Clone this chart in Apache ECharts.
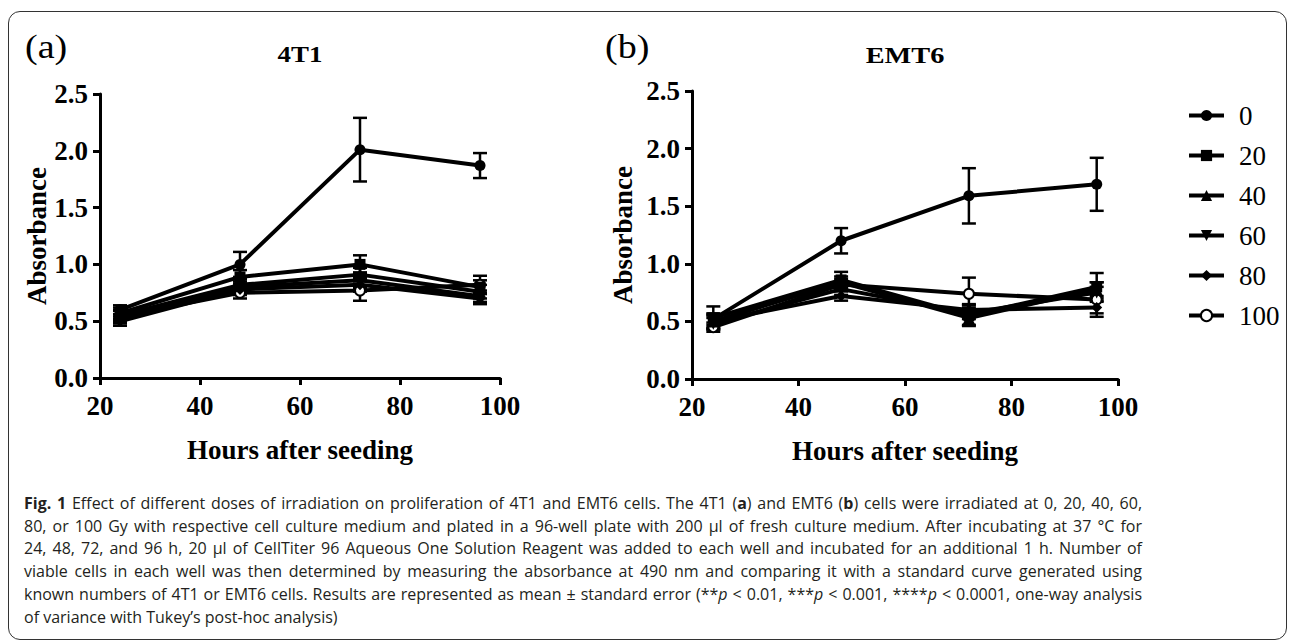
<!DOCTYPE html>
<html>
<head>
<meta charset="utf-8">
<script src="https://cdn.jsdelivr.net/npm/echarts@6/dist/echarts.min.js"></script>
<style>
  html, body { margin:0; padding:0; background:#fff; }
  #wrap { position:relative; width:1293px; height:643px; overflow:hidden; }
  #chart { position:absolute; left:0; top:0; width:1293px; height:643px; }
  #frame { position:absolute; left:8px; top:11px; width:1279px; height:629px; box-sizing:border-box;
           border:1.5px solid #333; border-radius:12px; pointer-events:none; }
  #caption { position:absolute; left:24px; top:492px; width:1118px;
             font-family:"Open Sans", sans-serif; font-size:16px; line-height:22.7px; color:#231f20; }
  #caption .j { text-align:justify; text-align-last:justify; white-space:nowrap; }
  #caption .l { white-space:nowrap; }
</style>
</head>
<body>
<div id="wrap">
  <div id="chart"></div>
  <div id="frame"></div>
  <div id="caption">
    <div class="j"><b>Fig. 1</b> Effect of different doses of irradiation on proliferation of 4T1 and EMT6 cells. The 4T1 (<b>a</b>) and EMT6 (<b>b</b>) cells were irradiated at 0, 20, 40, 60,</div>
    <div class="j">80, or 100 Gy with respective cell culture medium and plated in a 96-well plate with 200 µl of fresh culture medium. After incubating at 37 °C for</div>
    <div class="j">24, 48, 72, and 96 h, 20 µl of CellTiter 96 Aqueous One Solution Reagent was added to each well and incubated for an additional 1 h. Number of</div>
    <div class="j">viable cells in each well was then determined by measuring the absorbance at 490 nm and comparing it with a standard curve generated using</div>
    <div class="j">known numbers of 4T1 or EMT6 cells. Results are represented as mean ± standard error (**<i>p</i> &lt; 0.01, ***<i>p</i> &lt; 0.001, ****<i>p</i> &lt; 0.0001, one-way analysis</div>
    <div class="l">of variance with Tukey’s post-hoc analysis)</div>
  </div>
</div>
<script>
// ---- data ----
const hours = [24, 48, 72, 96];
const doses = ['0', '20', '40', '60', '80', '100'];
const xTicks = [20, 40, 60, 80, 100];
const yTicks = [0.0, 0.5, 1.0, 1.5, 2.0, 2.5];

// 4T1 means and standard errors
const t1_0   = [0.60, 1.00, 2.01, 1.87];  const t1_0_err   = [0.04, 0.11, 0.28, 0.11];
const t1_20  = [0.57, 0.89, 1.00, 0.80];  const t1_20_err  = [0.05, 0.06, 0.08, 0.06];
const t1_40  = [0.55, 0.82, 0.91, 0.76];  const t1_40_err  = [0.05, 0.05, 0.06, 0.06];
const t1_60  = [0.52, 0.80, 0.86, 0.72];  const t1_60_err  = [0.04, 0.05, 0.07, 0.05];
const t1_80  = [0.50, 0.78, 0.82, 0.70];  const t1_80_err  = [0.04, 0.05, 0.06, 0.05];
const t1_100 = [0.54, 0.75, 0.77, 0.82];  const t1_100_err = [0.05, 0.05, 0.09, 0.08];

// EMT6 means and standard errors
const e6_0   = [0.52, 1.20, 1.59, 1.69];  const e6_0_err   = [0.05, 0.11, 0.24, 0.23];
const e6_20  = [0.53, 0.86, 0.55, 0.80];  const e6_20_err  = [0.10, 0.07, 0.09, 0.12];
const e6_40  = [0.50, 0.84, 0.53, 0.78];  const e6_40_err  = [0.06, 0.05, 0.06, 0.06];
const e6_60  = [0.48, 0.78, 0.57, 0.75];  const e6_60_err  = [0.05, 0.05, 0.05, 0.05];
const e6_80  = [0.50, 0.72, 0.60, 0.62];  const e6_80_err  = [0.05, 0.04, 0.05, 0.05];
const e6_100 = [0.45, 0.82, 0.74, 0.69];  const e6_100_err = [0.04, 0.05, 0.14, 0.15];

const t1Means = [t1_0, t1_20, t1_40, t1_60, t1_80, t1_100];
const t1Errs  = [t1_0_err, t1_20_err, t1_40_err, t1_60_err, t1_80_err, t1_100_err];
const e6Means = [e6_0, e6_20, e6_40, e6_60, e6_80, e6_100];
const e6Errs  = [e6_0_err, e6_20_err, e6_40_err, e6_60_err, e6_80_err, e6_100_err];

// ---- styles ----
const SERIF = '"Liberation Serif", "Times New Roman", serif';
const symbolList = ['circle', 'rect', 'triangle', 'path://M0,0L2,0L1,1.8Z', 'diamond', 'emptyCircle'];
const symbolSizes = [11, 11, 12, 12, 11, 10];

const chart = echarts.init(document.getElementById('chart'), null, { renderer: 'svg' });

function makeXAxis(gridIndex) {
  return {
    type: 'value', gridIndex, min: xTicks[0], max: xTicks[xTicks.length - 1], interval: 20,
    name: 'Hours after seeding', nameLocation: 'middle', nameGap: 58,
    nameTextStyle: { fontFamily: SERIF, fontWeight: 'bold', fontSize: 27, color: '#000' },
    axisLine: { show: true, onZero: false, lineStyle: { color: '#000', width: 3 } },
    axisTick: { show: true, length: 7, lineStyle: { color: '#000', width: 3 } },
    axisLabel: { margin: 14, fontFamily: SERIF, fontWeight: 'bold', fontSize: 27, color: '#000' },
    splitLine: { show: false }
  };
}
function makeYAxis(gridIndex, gap) {
  return {
    type: 'value', gridIndex, min: yTicks[0], max: yTicks[yTicks.length - 1], interval: 0.5,
    name: 'Absorbance', nameLocation: 'middle', nameGap: gap,
    nameTextStyle: { fontFamily: SERIF, fontWeight: 'bold', fontSize: 27, color: '#000' },
    axisLine: { show: true, onZero: false, lineStyle: { color: '#000', width: 3 } },
    axisTick: { show: true, length: 7, lineStyle: { color: '#000', width: 3 } },
    axisLabel: { margin: 12, fontFamily: SERIF, fontWeight: 'bold', fontSize: 27, color: '#000',
                 formatter: v => v.toFixed(1) },
    splitLine: { show: false }
  };
}

function errRender(params, api) {
  const x = api.value(0), lo = api.value(1), hi = api.value(2);
  const pLo = api.coord([x, lo]), pHi = api.coord([x, hi]);
  const hw = 7;
  const st = { stroke: '#000', lineWidth: 2.5 };
  return {
    type: 'group',
    children: [
      { type: 'line', shape: { x1: pLo[0], y1: pLo[1], x2: pHi[0], y2: pHi[1] }, style: st },
      { type: 'line', shape: { x1: pHi[0] - hw, y1: pHi[1], x2: pHi[0] + hw, y2: pHi[1] }, style: st },
      { type: 'line', shape: { x1: pLo[0] - hw, y1: pLo[1], x2: pLo[0] + hw, y2: pLo[1] }, style: st }
    ]
  };
}

const series = [];
[[t1Means, t1Errs, 0], [e6Means, e6Errs, 1]].forEach(([means, errs, gi]) => {
  doses.forEach((d, k) => {
    series.push({
      type: 'custom', name: 'err' + gi + '_' + d, xAxisIndex: gi, yAxisIndex: gi,
      renderItem: errRender, encode: { x: 0, y: [1, 2] }, silent: true, z: 3,
      data: hours.map((h, i) => [h, means[k][i] - errs[k][i], means[k][i] + errs[k][i]])
    });
  });
  doses.forEach((d, k) => {
    const open = k === 5;
    series.push({
      type: 'line', name: d, xAxisIndex: gi, yAxisIndex: gi,
      symbol: symbolList[k], symbolSize: symbolSizes[k], showAllSymbol: true, z: open ? 3 : 4,
      lineStyle: { color: '#000', width: 4 },
      itemStyle: { color: '#000', borderColor: '#000', borderWidth: open ? 3 : 0, opacity: 1 },
      emphasis: { disabled: true },
      data: hours.map((h, i) => [h, means[k][i]])
    });
  });
});

chart.setOption({
  animation: false,
  backgroundColor: '#fff',
  grid: [
    { left: 100, top: 94, width: 400, height: 284 },
    { left: 692, top: 91, width: 426, height: 288 }
  ],
  xAxis: [makeXAxis(0), makeXAxis(1)],
  yAxis: [makeYAxis(0, 50), makeYAxis(1, 56)],
  legend: {
    data: doses,
    orient: 'vertical', left: 1182, top: 97,
    itemWidth: 35, itemHeight: 14, itemGap: 13, selectedMode: false,
    itemStyle: { color: '#000' },
    lineStyle: { color: '#000', width: 4 },
    textStyle: { fontFamily: SERIF, fontSize: 27, color: '#000', lineHeight: 27, padding: [0, 0, 0, 10] }
  },
  graphic: [
    { type: 'text', x: 25, y: 47, scaleX: 1.12, style: { text: '(a)', font: '34px ' + SERIF, fill: '#000', align: 'left', verticalAlign: 'middle' } },
    { type: 'text', x: 605, y: 47, scaleX: 1.12, style: { text: '(b)', font: '34px ' + SERIF, fill: '#000', align: 'left', verticalAlign: 'middle' } },
    { type: 'text', x: 300, y: 54, scaleX: 1.12, style: { text: '4T1', font: 'bold 24px ' + SERIF, fill: '#000', align: 'center', verticalAlign: 'middle' } },
    { type: 'text', x: 905, y: 55, scaleX: 1.18, style: { text: 'EMT6', font: 'bold 24px ' + SERIF, fill: '#000', align: 'center', verticalAlign: 'middle' } }
  ],
  series
});
</script>
</body>
</html>
